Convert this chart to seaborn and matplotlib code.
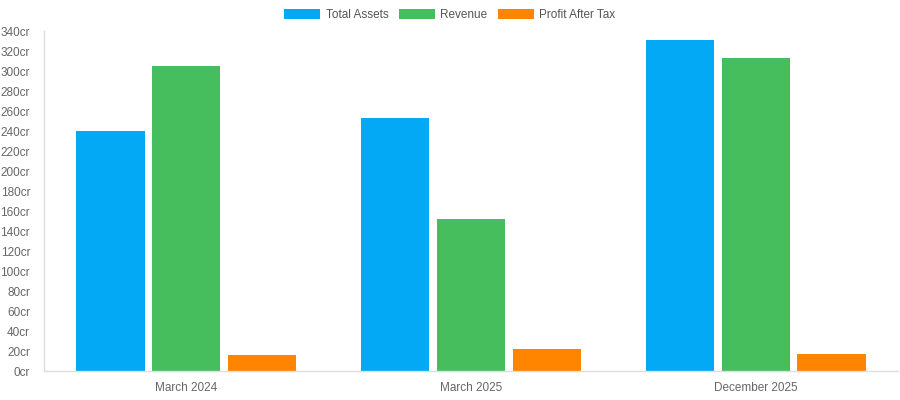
import matplotlib
matplotlib.use('Agg')
import matplotlib.pyplot as plt
import pandas as pd
import seaborn as sns

# chart data (values in crore)
periods = ['March 2024', 'March 2025', 'December 2025']
total_assets = [240, 253, 331]
revenue = [305, 152, 313]
profit_after_tax = [16, 22, 17]
series_names = ['Total Assets', 'Revenue', 'Profit After Tax']
colors = ['#03A9F4', '#46BE5E', '#FF8400']
y_ticks = list(range(0, 341, 20))

df = pd.DataFrame({'period': periods * 3,
                   'series': [s for s in series_names for _ in periods],
                   'value': total_assets + revenue + profit_after_tax})

sns.set_style('white')
plt.rcParams['font.family'] = ['Liberation Sans', 'DejaVu Sans']

fig = plt.figure(figsize=(9, 4), dpi=100)
ax = fig.add_axes([44 / 900, 29 / 400, 854 / 900, 340 / 400])

sns.barplot(data=df, x='period', y='value', hue='series', order=periods,
            hue_order=series_names, palette=colors, width=0.8, gap=0.1,
            saturation=1, linewidth=0, ax=ax)

ax.set_ylim(0, 340)
ax.set_yticks(y_ticks)
ax.set_yticklabels([f'{v}cr' for v in y_ticks])
ax.set(xlabel='', ylabel='')
ax.tick_params(axis='both', length=0, labelsize=8.5, colors='#666666')
ax.tick_params(axis='x', pad=8)
ax.tick_params(axis='y', pad=10)
for side in ['top', 'right']:
    ax.spines[side].set_visible(False)
for side in ['left', 'bottom']:
    ax.spines[side].set_color('#dddddd')
    ax.spines[side].set_linewidth(1)

ax.get_legend().remove()
handles, labels = ax.get_legend_handles_labels()
fig.legend(handles, labels, loc='center', bbox_to_anchor=(0.5, 385 / 400), ncol=3,
           frameon=False, fontsize=8.5, handlelength=3.0, handleheight=0.9,
           columnspacing=0.9, handletextpad=0.5, labelcolor='#555555')

fig.savefig('out.png', dpi=100)
